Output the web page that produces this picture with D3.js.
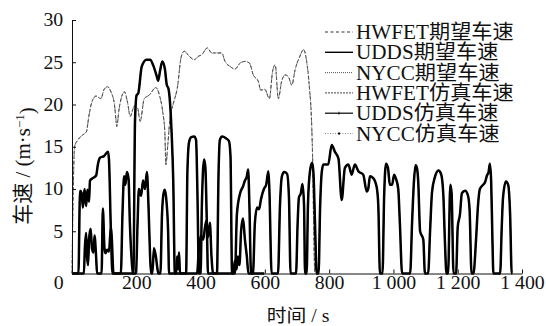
<!DOCTYPE html>
<html>
<head>
<meta charset="utf-8">
<script src="https://cdn.jsdelivr.net/npm/d3@7"></script>
<style>
  html, body { margin: 0; padding: 0; background: #fff; }
  svg text { font-family: "Liberation Serif", "Times New Roman", "Noto Sans CJK SC", serif; fill: #111; }
</style>
</head>
<body>
<div id="chart"></div>
<script>
// time (s) and speed (m/s)
const hwfetTime = [0,3,8,18,30,45,52,61,75,90,100,111,121,132,137,139,147,163,173,181,194,204,212,225,240,261,272,282,289,292,298,305,313,329,339,349,365,380,393,404,421,435,450,466,476,492,507,523,538,552,564,580,587,600,614,624,632,642,652,663,673,684,694,709,720,730,738,746,749,752,755];
const hwfetSpeed = [0,8,15,15.8,16.3,16.8,18.5,20.2,21,20.7,21.8,22.1,21.5,20,18.1,17.4,19.6,21.5,20.2,18.6,19.8,19.6,18,20.7,21.1,22,21.1,19.2,16.6,12.9,15.2,18.4,19.8,22.3,25.5,26.3,25.7,25.3,25.7,25.9,26.7,26.1,26.1,26.1,25.1,24.5,24.2,24.9,25.1,24.9,23.5,22.7,21.7,21.8,20.7,23.9,24.7,20.7,22.7,23.5,23.3,22.3,24.1,25.7,26.5,25.1,22.3,17.2,12.9,5,0];

const uddsTime = [0,20,25,30,34,39,44,48,53,56,65,75,81,87,100,106,112,115,121,126,
  191,196,201,206,217,232,243,253,264,268,274,281,289,295,300,305,310,315,320,
  355,359,364,370,380,386,390,395,400,404,411,415,420,423,451,456,460,467,479,488,493,498,
  507,513,523,532,538,544,548,552,557,
  563,569,576,582,588,597,604,611,614,621,
  641,647,653,660,669,675,680,
  697,702,706,712,717,722,725,
  730,734,740,747,751,756,761,
  767,772,777,782,797,808,818,829,839,849,860,870,880,891,906,917,922,927,937,948,953,958,
  966,971,977,983,989,996,1002,1008,1015,1020,1027,
  1052,1058,1064,1069,1073,1077,1083,1093,1098,
  1108,1114,1120,1129,1140,1148,1155,1160,1165,
  1170,1177,1181,1187,
  1195,1200,1207,1213,1223,1232,1237,1243,
  1249,1257,1263,1269,1279,1285,1291,1296,1300,1304,1308,1311,
  1332,1337,1341,1350,1357,1363,1368,1370];
const uddsSpeed = [0,0,9.8,9.5,7.8,10,8,9.9,8.5,11,11.3,11.6,13,13.7,13.9,14.2,14.4,13.5,5,0,
  0,18,21.1,21.3,24.5,25.3,25.3,24.6,23.3,22.8,24,25.1,24.2,22.3,21.9,20.2,16.6,11,0,
  0,12,15.5,16.1,16.2,15.8,10,0,0,8,13.5,12.5,5,0,0,12,15.8,16.2,16,15.7,14,0,
  0,7,9.5,10.3,11,11.5,12.3,8,0,
  0,6,7.8,7.6,8.8,10,10.5,12.1,10,0,
  0,8,11.5,12,11.8,9,0,
  0,6,9,9.5,10.6,8,0,
  0,8,12,13.1,12,6,0,
  0,8,12,12.9,12.9,15.2,14.4,13.6,8.7,12.5,12.9,11.7,12.9,12.1,11.7,9.7,10.1,11.5,11.3,10.2,8,0,
  0,9,13,12.5,10.5,10.5,11.7,11.2,10,6,0,
  0,6,11,12.8,12.5,11,5,4,0,
  0,5,9.6,11.4,12.2,11.8,9.5,4,0,
  0,10.5,9.5,0,
  0,5.5,7,9.5,9.8,9.2,7.5,0,
  0,4,8,10,10.5,10.8,11.6,12,13,11,4,0,
  0,5.5,9,10.9,10.5,7,0,0];

const nyccTime = [0,37,40,44,47,50,53,58,62,67,70,75,78,92,96,101,104,109,115,121,124,129,
  152,157,162,166,171,176,180,185,190,199,204,208,215,221,227,233,238,243,246,
  250,255,261,266,269,275,280,285,289,294,299,302,324,327,330,333,336,
  389,395,401,408,414,418,423,429,434,439,501,507,512,516,521,526,532,538,544,549,598];
const nyccSpeed = [0,0,3,4.8,2,1,4,5.3,3,2.5,4.5,2,0,0,7.7,3,2.4,2.8,2.6,5.5,4,0,
  0,7,11.5,10.5,12,11.2,6,2,0,0,6,10,9.2,11,10,12,8,2,0,
  0,3,2,0.5,0,0,7,9.5,9.9,8.5,5,0,0,2,0.5,2.5,0,
  0,3,4.5,4,5.5,6.2,4.3,6,2,0,0,1.5,0.5,2,1,5,6.5,4,2,0,0];

const xTicks = [0,200,400,600,800,1000,1200,1400];
const yTicks = [5,10,15,20,25,30];
const legendNames = ["HWFET期望车速","UDDS期望车速","NYCC期望车速","HWFET仿真车速","UDDS仿真车速","NYCC仿真车速"];

function create_svg() {
  const width = 546, height = 326;
  const margin = {top: 20, right: 24, bottom: 52.5, left: 72};
  const stretch = "scale(1.1,1)"; // the printed figure is a bit wider than tall

  const svg = d3.select("#chart").append("svg")
    .attr("width", width)
    .attr("height", height);

  const x = d3.scaleLinear().domain([0, 1400]).range([margin.left, width - margin.right]);
  const y = d3.scaleLinear().domain([0, 30]).range([height - margin.bottom, margin.top]);

  // series: expected and simulated lie on top of each other
  const pts = (t, v) => t.map((d, i) => [d, v[i]]);
  const series = [
    {data: pts(hwfetTime, hwfetSpeed), stroke: "#333", w: 0.9, dash: "3,2.2"},
    {data: pts(hwfetTime, hwfetSpeed), stroke: "#555", w: 0.8, dash: "5,1.5,1,1.5"},
    {data: pts(nyccTime, nyccSpeed), stroke: "#000", w: 2.5, dash: null},
    {data: pts(nyccTime, nyccSpeed), stroke: "#000", w: 1.2, dash: null},
    {data: pts(uddsTime, uddsSpeed), stroke: "#000", w: 2.5, dash: null},
    {data: pts(uddsTime, uddsSpeed), stroke: "#000", w: 1.2, dash: null}
  ];

  const line = d3.line()
    .x(d => x(d[0]))
    .y(d => y(d[1]))
    .curve(d3.curveMonotoneX);

  svg.append("g").selectAll("path")
    .data(series)
    .join("path")
      .attr("d", d => line(d.data))
      .attr("fill", "none")
      .attr("stroke", d => d.stroke)
      .attr("stroke-width", d => d.w)
      .attr("stroke-dasharray", d => d.dash)
      .attr("stroke-linejoin", "round");

  // axes, ticks point inwards
  const fmt = d => d >= 1000 ? String(d).slice(0, 1) + " " + String(d).slice(1) : String(d);
  const gx = svg.append("g")
    .attr("transform", `translate(0,${y(0)})`)
    .call(d3.axisBottom(x).tickValues(xTicks).tickFormat(fmt).tickSizeInner(-4).tickSizeOuter(0).tickPadding(3));
  gx.selectAll("text").style("font-size", "18px").attr("fill", "#111").attr("transform", stretch);
  gx.selectAll(".tick").filter(d => d === 0).select("text").attr("x", -12.5);

  const gy = svg.append("g")
    .attr("transform", `translate(${x(0)},0)`)
    .call(d3.axisLeft(y).tickValues(yTicks).tickSizeInner(-4).tickSizeOuter(0).tickPadding(8));
  gy.selectAll("text").style("font-size", "18px").attr("fill", "#111").attr("transform", stretch);

  svg.selectAll(".domain, .tick line").attr("stroke", "#111").attr("stroke-width", 1);

  // axis titles
  svg.append("text")
    .attr("transform", "translate(298,322) " + stretch)
    .attr("text-anchor", "middle")
    .style("font-size", "18px")
    .text("时间 / s");

  const yl = svg.append("text")
    .attr("transform", "translate(30,166) rotate(-90)")
    .attr("text-anchor", "middle")
    .style("font-size", "21px");
  yl.append("tspan").text("车速 / (m·s");
  yl.append("tspan").attr("dy", "-0.45em").style("font-size", "13px").text("−1");
  yl.append("tspan").attr("dy", "0.45em").text(")");

  // legend
  const legendStyle = [
    {stroke: "#333", w: 1, dash: "3,2.5", mark: null},
    {stroke: "#000", w: 1.4, dash: null, mark: null},
    {stroke: "#555", w: 1, dash: "1,1", mark: null},
    {stroke: "#444", w: 1, dash: "2,1", mark: null},
    {stroke: "#000", w: 1.2, dash: null, mark: "tick"},
    {stroke: "#888", w: 1, dash: "1,1.5", mark: "dot"}
  ];
  const lg = svg.append("g");
  legendNames.forEach((name, i) => {
    const cy = 32 + i * 20.3;
    const s = legendStyle[i];
    lg.append("line")
      .attr("x1", 325).attr("x2", 353)
      .attr("y1", cy).attr("y2", cy)
      .attr("stroke", s.stroke)
      .attr("stroke-width", s.w)
      .attr("stroke-dasharray", s.dash);
    if (s.mark === "tick") {
      lg.append("line").attr("x1", 339).attr("x2", 339).attr("y1", cy - 1.5).attr("y2", cy + 1.5)
        .attr("stroke", "#000").attr("stroke-width", 0.8);
    }
    if (s.mark === "dot") {
      lg.append("rect").attr("x", 338).attr("y", cy - 1).attr("width", 2).attr("height", 2).attr("fill", "#000");
    }
    lg.append("text")
      .attr("transform", `translate(356,${cy}) scale(1.06,1)`)
      .attr("dy", "0.35em")
      .style("font-size", "20px")
      .text(name);
  });
}

create_svg();
</script>
</body>
</html>
